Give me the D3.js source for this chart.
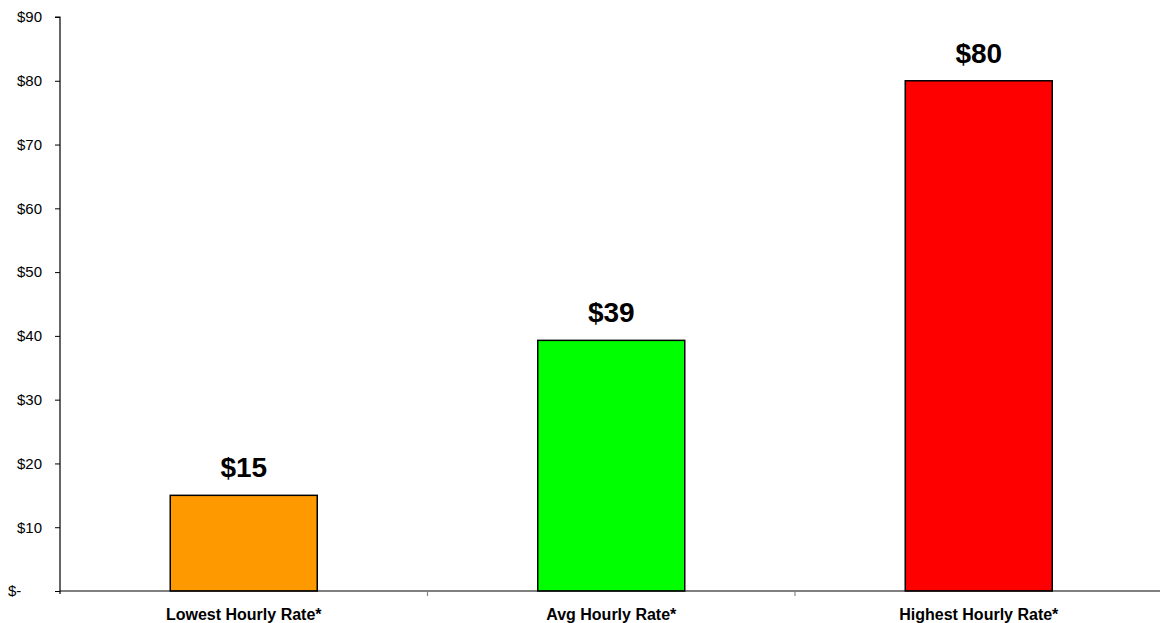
<!DOCTYPE html>
<html><head><meta charset="utf-8">
<script src="https://cdn.jsdelivr.net/npm/d3@7"></script>
<style>body{margin:0;background:#fff}svg{display:block;font-family:Arial,"Liberation Sans",sans-serif}</style>
</head><body><svg id="c" width="1160" height="623"></svg>
<script>
const categories = ["Lowest Hourly Rate*", "Avg Hourly Rate*", "Highest Hourly Rate*"];
const values = [15, 39.3, 80];
const valueLabels = ["$15", "$39", "$80"];
const colors = ["#FF9900", "#00FF00", "#FF0000"];
const yTicks = [0, 10, 20, 30, 40, 50, 60, 70, 80, 90];

(function () {
const svg = d3.select("#c");
const mLeft = 60, mRight = 1162.5, mTop = 17, mBottom = 591;
const x = d3.scaleBand().domain(categories).range([mLeft, mRight]).paddingInner(0).paddingOuter(0);
const y = d3.scaleLinear().domain([0, 90]).range([mBottom, mTop]);

// bars
const bw = x.bandwidth() * 0.4;
svg.selectAll("rect.bar").data(values).join("rect")
  .attr("class", "bar")
  .attr("x", (d, i) => x(categories[i]) + (x.bandwidth() - bw) / 2)
  .attr("y", d => y(d))
  .attr("width", bw)
  .attr("height", d => y(0) - y(d))
  .attr("fill", (d, i) => colors[i])
  .attr("stroke", "#000").attr("stroke-width", 1.5);

// value labels
svg.selectAll("text.val").data(values).join("text")
  .attr("class", "val")
  .attr("x", (d, i) => x(categories[i]) + x.bandwidth() / 2)
  .attr("y", d => y(d) - 18)
  .attr("text-anchor", "middle")
  .attr("font-size", 28).attr("font-weight", "bold").attr("fill", "#000")
  .text((d, i) => valueLabels[i]);

// y axis
const yAxis = d3.axisLeft(y).tickValues(yTicks).tickSize(5).tickPadding(0)
  .tickFormat(d => d === 0 ? "$-" : "$" + d);
const ga = svg.append("g").attr("transform", `translate(${mLeft},0)`).call(yAxis);
ga.select(".domain").attr("stroke", "#000").attr("stroke-width", 1.2).attr("d", `M-5,${mTop}H0V${mBottom + 3}`);
ga.selectAll(".tick line").attr("stroke", "#000");
ga.selectAll(".tick text").attr("font-size", 15).attr("fill", "#000")
  .attr("x", d => d === 0 ? -52 : -18)
  .attr("text-anchor", d => d === 0 ? "start" : "end");

// x axis
const xAxis = d3.axisBottom(x).tickSize(0).tickPadding(0);
const gx = svg.append("g").attr("transform", `translate(0,${mBottom})`).call(xAxis);
gx.select(".domain").attr("stroke", "#000").attr("stroke-width", 1.2).attr("d", `M${mLeft},0H1160`);
gx.selectAll(".tick text").attr("font-size", 16).attr("font-weight", "bold").attr("fill", "#000").attr("dy", 0).attr("y", 29);
// category separators
svg.selectAll("line.sep").data(categories.slice(1)).join("line")
  .attr("class", "sep")
  .attr("x1", d => x(d)).attr("x2", d => x(d))
  .attr("y1", mBottom).attr("y2", mBottom + 5)
  .attr("stroke", "#888").attr("stroke-width", 1.2);
})();
</script></body></html>
